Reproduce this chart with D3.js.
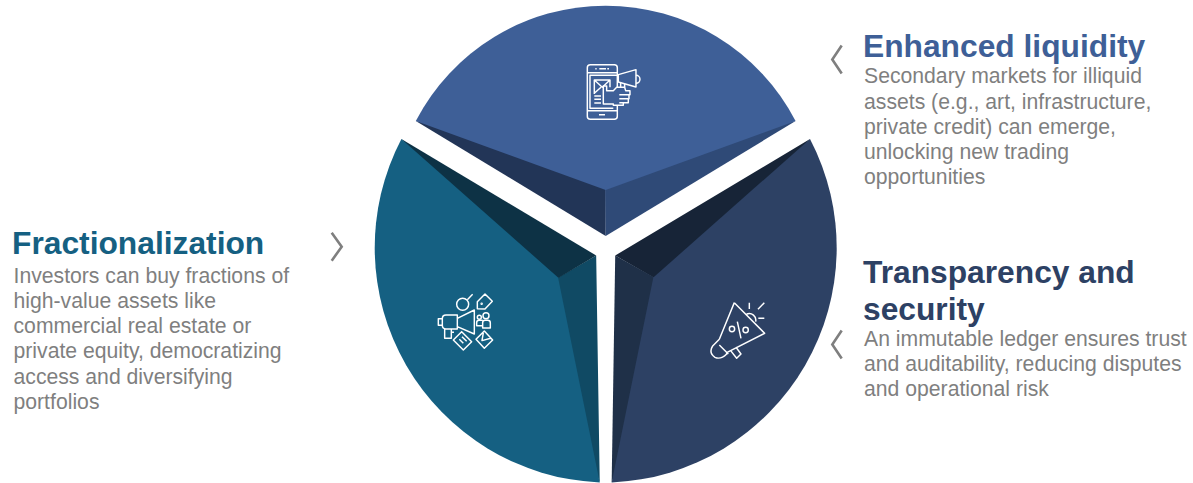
<!DOCTYPE html>
<html>
<head>
<meta charset="utf-8">
<script src="https://cdn.jsdelivr.net/npm/d3@7"></script>
<style>
  html, body { margin: 0; padding: 0; background: #fff; }
  svg { display: block; }
  text { font-family: "Liberation Sans", Arial, sans-serif; }
</style>
</head>
<body>
<div id="chart"></div>
<script>
// what the picture says
var shares = [1, 1, 1];
var titles = [
	["Enhanced liquidity"],
	["Transparency and", "security"],
	["Fractionalization"]
];
var bodies = [
	["Secondary markets for illiquid", "assets (e.g., art, infrastructure,", "private credit) can emerge,", "unlocking new trading", "opportunities"],
	["An immutable ledger ensures trust", "and auditability, reducing disputes", "and operational risk"],
	["Investors can buy fractions of", "high-value assets like", "commercial real estate or", "private equity, democratizing", "access and diversifying", "portfolios"]
];

// how it is drawn: one row per wedge, same order as above
var wedgeStyle = [
	{ half: 58.8, gap: 14, len: 222, r: 214, bevel: 46, main: "#3e5f97", startFacet: "#223557", endFacet: "#2f4a77" },
	{ half: 60.9, gap: 11, len: 227, r: 235, bevel: 44, main: "#2d4164", startFacet: "#172437", endFacet: "#1f3048" },
	{ half: 60.9, gap: 11, len: 227, r: 235, bevel: 44, main: "#156082", startFacet: "#104a64", endFacet: "#0d3245" }
];
var textStyle = [
	{ x: 863, titleY: 57, bodyX: 864, bodyY: 83.3, color: "#3e5f97" },
	{ x: 863, titleY: 282.5, bodyX: 864, bodyY: 345.7, color: "#2d4164" },
	{ x: 12, titleY: 253.5, bodyX: 13.5, bodyY: 282.8, color: "#156082" }
];
var chevrons = [
	{ tip: [832.3, 59.5], arm: [841.7, 14] },
	{ tip: [832.3, 344.5], arm: [841.7, 14] },
	{ tip: [341.7, 246.7], arm: [331.7, 14] }
];

var width = 1193, height = 483;
var cx = 605.7, cy = 250;

var svg = d3.select("#chart").append("svg")
	.attr("width", width)
	.attr("height", height);

var pie = d3.pie()
	.sort(null)
	.startAngle(-Math.PI / 3)
	.endAngle(Math.PI * 5 / 3);

function polar(origin, angle, dist) {
	return [origin[0] + Math.sin(angle) * dist, origin[1] - Math.cos(angle) * dist];
}

function poly(points) {
	return "M" + points.map(function(p) { return p.join(","); }).join("L") + "Z";
}

var wedges = svg.selectAll(".wedge")
	.data(pie(shares))
	.enter().append("g")
	.attr("class", "wedge");

wedges.each(function(d, i) {
	var s = wedgeStyle[i];
	var mid = (d.startAngle + d.endAngle) / 2;
	var half = s.half * Math.PI / 180;
	var apex = polar([cx, cy], mid, s.gap);
	var tipA = polar(apex, mid - half, s.len);
	var tipB = polar(apex, mid + half, s.len);
	var inner = polar(apex, mid, s.bevel);
	var deep = polar(apex, mid, s.bevel + 30);
	var g = d3.select(this);

	// facets run on under the top face, otherwise the joins show a light hairline
	g.append("path").attr("d", poly([tipA, apex, inner, deep])).attr("fill", s.startFacet);
	g.append("path").attr("d", poly([tipB, apex, polar(apex, mid - 0.012, s.bevel), deep])).attr("fill", s.endFacet);
	g.append("path")
		.attr("d", "M" + tipA.join(",") + "A" + s.r + "," + s.r + " 0 0 1 " + tipB.join(",") + "L" + inner.join(",") + "Z")
		.attr("fill", s.main);
});

// icons, traced on the zoomed crops so they carry the crop's offset and a 1/3 scale
var icons = svg.append("g")
	.attr("fill", "none")
	.attr("stroke", "#fff")
	.attr("stroke-width", 4.4)
	.attr("stroke-linejoin", "round");

var phone = icons.append("g").attr("transform", "translate(400,0) scale(0.3333)");
phone.append("rect").attr("x", 562).attr("y", 194).attr("width", 90).attr("height", 164).attr("rx", 9);
phone.append("path").attr("d", [
	"M562,218H652", "M562,332H652", "M598,206H618", "M586,206H590", "M622,206H627", "M597,344H615",
	"M652,226H570V325H640", "M583,282V240H630V262", "M583,240L607,262L630,240", "M583,280L603,262",
	"M583,288H603", "M583,298H603", "M583,309H603"
].join(""));
// hand and horn sit in front of the phone, so they hide what is behind them
phone.append("path")
	.attr("fill", wedgeStyle[0].main)
	.attr("d", "M655,224L708,209V261L655,246Z");
phone.append("path").attr("d", "M708,226A12,12 0 0 1 708,250M662,248V262M674,251V262");
phone.append("path")
	.attr("fill", wedgeStyle[0].main)
	.attr("d", "M610,312V258H620V272H640L650,262H674L677,272H690V284H687V296H685V308H670V316H640V312Z");
phone.append("path").attr("d", "M658,284H687M658,296H685M658,308H670");

var crowd = icons.append("g").attr("transform", "translate(370,130) scale(0.3333)");
crowd.append("circle").attr("cx", 278).attr("cy", 523).attr("r", 18);
crowd.append("circle").attr("cx", 348).attr("cy", 557).attr("r", 9);
crowd.append("circle").attr("cx", 328).attr("cy", 562).attr("r", 6);
crowd.append("circle").attr("cx", 335).attr("cy", 521).attr("r", 1.5);
crowd.append("path").attr("d", [
	"M292,509L308,493",
	"M322,536V515L345,492L367,514L345,537Z",
	"M205,566H217V586H205Z", "M217,566Q217,555 228,555H262V597H228Q217,597 217,586",
	"M262,565L313,540V612L262,590", "M224,597V625H244V597", "M244,597V607H252",
	"M338,594V578Q338,571 345,571H353Q361,571 361,578V594Z", "M336,587H320V578Q320,571 327,571H338",
	"M250,630L275,605L305,635L280,660Z", "M268,628L280,640", "M276,620L290,634",
	"M318,628L343,603L368,630L343,655Z", "M340,609L336,632L362,625"
].join(""));

var horn = icons.append("g").attr("transform", "translate(600,130) scale(0.3333)");
horn.append("circle").attr("cx", 396).attr("cy", 597).attr("r", 8);
horn.append("circle").attr("cx", 437).attr("cy", 600).attr("r", 8);
horn.append("path").attr("d", [
	"M403,518L494,610L380,668", "M403,518L358,628", "M412,575L423,625",
	"M358,628L338,648Q325,668 345,682Q362,690 380,672L380,668",
	"M392,662L410,685L423,672L408,652", "M358,645L385,672",
	"M440,552A20,20 0 0 1 467,575",
	"M448,518V537", "M493,518L474,538", "M475,565H493"
].join(""));

// chevrons
svg.selectAll(".chevron")
	.data(chevrons)
	.enter().append("path")
	.attr("class", "chevron")
	.attr("fill", "none")
	.attr("stroke", "#7f7f7f")
	.attr("stroke-width", 2.6)
	.attr("d", function(d) {
		return "M" + d.arm[0] + "," + (d.tip[1] - d.arm[1]) + "L" + d.tip.join(",") + "L" + d.arm[0] + "," + (d.tip[1] + d.arm[1]);
	});

// labels
var labels = svg.selectAll(".label")
	.data(titles)
	.enter().append("g")
	.attr("class", "label");

labels.each(function(lines, i) {
	var t = textStyle[i];
	var g = d3.select(this);
	g.selectAll(".title")
		.data(lines)
		.enter().append("text")
		.attr("class", "title")
		.attr("x", t.x)
		.attr("y", function(d, j) { return t.titleY + j * 37.5; })
		.attr("fill", t.color)
		.attr("font-size", 31.75)
		.attr("font-weight", "bold")
		.text(function(d) { return d; });
	g.selectAll(".body")
		.data(bodies[i])
		.enter().append("text")
		.attr("class", "body")
		.attr("x", t.bodyX)
		.attr("y", function(d, j) { return t.bodyY + j * 25.2; })
		.attr("fill", "#7f7f7f")
		.attr("font-size", 21.2)
		.text(function(d) { return d; });
});
</script>
</body>
</html>
